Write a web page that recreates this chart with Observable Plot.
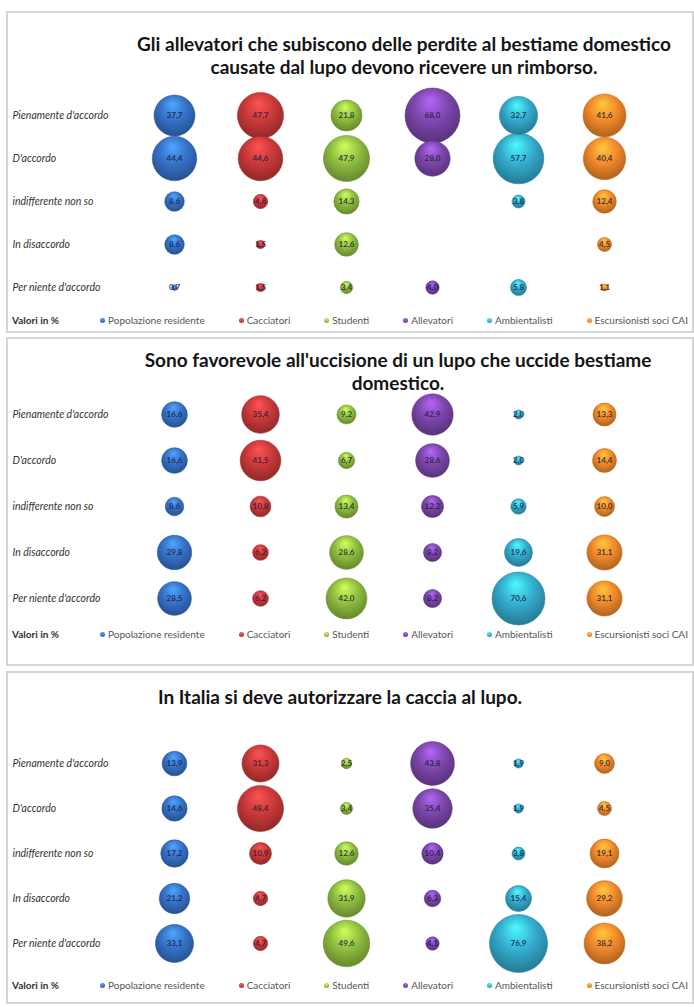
<!DOCTYPE html>
<html><head><meta charset="utf-8">
<script src="https://cdn.jsdelivr.net/npm/d3@7"></script>
<script src="https://cdn.jsdelivr.net/npm/@observablehq/plot@0.6"></script>
<style>
html,body{margin:0;padding:0;background:#fff;}
body{width:694px;height:1007px;position:relative;overflow:hidden;font-family:Lato,"Open Sans",sans-serif;}
.panel{position:absolute;left:6px;width:684px;border:2px solid #d6d6d6;background:#fff;}
.title{position:absolute;width:640px;text-align:center;font-weight:bold;font-size:19px;color:#141414;white-space:nowrap;}
.plot{position:absolute;left:0;}
.plot svg{overflow:visible;}
.legend{position:absolute;left:4px;right:4px;height:14px;display:flex;align-items:center;font-size:10px;color:#555;white-space:nowrap;}
.legend .lab{font-weight:bold;color:#333;width:88px;flex:none;}
.legend .items{flex:1;display:flex;justify-content:space-between;}
.legend .it{display:flex;align-items:center;}
.legend .mk{width:5px;height:5px;border-radius:50%;margin-right:3px;display:inline-block;}
</style>
</head><body>
<svg id="defs" width="0" height="0" style="position:absolute"><defs></defs></svg>
<script>
const groups = ["Popolazione residente","Cacciatori","Studenti","Allevatori","Ambientalisti","Escursionisti soci CAI"];
const rows = ["Pienamente d'accordo","D'accordo","indifferente non so","In disaccordo","Per niente d'accordo"];
const seriesColors = ["#3570c6","#c83838","#8dbb3f","#7a45a8","#33a9cb","#f0882a"];
const legendLabel = "Valori in %";

const titleRimborso = ["Gli allevatori che subiscono delle perdite al bestiame domestico","causate dal lupo devono ricevere un rimborso."];
const titleUccisione = ["Sono favorevole all'uccisione di un lupo che uccide bestiame","domestico."];
const titleCaccia = ["In Italia si deve autorizzare la caccia al lupo."];

// values: one list per group, in row order
const rimborso = [
  [37.7,44.4,8.6,8.6,0.7],
  [47.7,44.6,4.6,1.5,1.5],
  [21.8,47.9,14.3,12.6,3.4],
  [68.0,28.0,0,0,4.0],
  [32.7,57.7,3.8,0,5.8],
  [41.6,40.4,12.4,4.5,1.1]
];
const uccisione = [
  [16.6,16.6,8.6,29.8,28.5],
  [35.4,41.5,10.8,6.2,6.2],
  [9.2,6.7,13.4,28.6,42.0],
  [42.9,28.6,12.2,8.2,8.2],
  [2.0,2.0,5.9,19.6,70.6],
  [13.3,14.4,10.0,31.1,31.1]
];
const caccia = [
  [13.9,14.6,17.2,21.2,33.1],
  [31.3,48.4,10.9,4.7,4.7],
  [2.5,3.4,12.6,31.9,49.6],
  [43.8,35.4,10.4,6.3,4.1],
  [1.9,1.9,3.8,15.4,76.9],
  [9.0,4.5,19.1,29.2,38.2]
];

// gradients
const defs = d3.select("#defs defs");
seriesColors.forEach((c,i)=>{
  const g = defs.append("radialGradient").attr("id","g"+i)
    .attr("cx","50%").attr("cy","40%").attr("r","60%").attr("fx","45%").attr("fy","22%");
  g.append("stop").attr("offset","0%").attr("stop-color", d3.color(c).brighter(1.1).formatHex());
  g.append("stop").attr("offset","55%").attr("stop-color", c);
  g.append("stop").attr("offset","100%").attr("stop-color", d3.color(c).darker(0.9).formatHex());
});

const fmt = v => d3.format(".1f")(v).replace(".", ",");

const panels = [
  {title: titleRimborso, values: rimborso, top: 11, h: 318, titleTop: 19, titleCx: 396, lh: 23, svgTop: 75, rowSpan: 175, rMax: 27.5, legendTop: 300},
  {title: titleUccisione, values: uccisione, top: 337, h: 325, titleTop: 9, titleCx: 390, lh: 23, svgTop: 49, rowSpan: 186, rMax: 26.5, legendTop: 288},
  {title: titleCaccia, values: caccia, top: 671, h: 329, titleTop: 13, titleCx: 332, lh: 22, svgTop: 64, rowSpan: 182, rMax: 29, legendTop: 305}
];

panels.forEach(p=>{
  const panel = document.createElement("div");
  panel.className = "panel";
  panel.style.top = p.top + "px";
  panel.style.height = p.h + "px";
  document.body.appendChild(panel);

  const t = document.createElement("div");
  t.className = "title";
  t.style.top = p.titleTop + "px";
  t.style.left = (p.titleCx - 320) + "px";
  t.style.lineHeight = p.lh + "px";
  t.innerHTML = p.title.map(s=>s.replace(/&/g,"&amp;")).join("<br>");
  panel.appendChild(t);

  const data = [];
  groups.forEach((g,gi)=> rows.forEach((r,ri)=> data.push({group:g, gi, row:r, value:p.values[gi][ri]})));
  const shown = data.filter(d=>d.value>0);
  const max = d3.max(data, d=>d.value);
  const mTop = 25, mBot = 35;

  const chart = Plot.plot({
    width: 684, height: mTop + p.rowSpan + mBot,
    marginLeft: 164, marginRight: 86, marginTop: mTop, marginBottom: mBot,
    style: {fontFamily: "Lato, 'Open Sans', sans-serif", background: "transparent", overflow: "visible"},
    x: {type: "point", domain: groups, padding: 0, axis: null},
    y: {type: "point", domain: rows, padding: 0, axis: null},
    r: {type: "sqrt", domain: [0, max], range: [0, p.rMax]},
    marks: [
      ...groups.map((g,gi)=> Plot.dot(shown.filter(d=>d.gi===gi), {
        x: "group", y: "row", r: "value",
        fill: `url(#g${gi})`, stroke: d3.color(seriesColors[gi]).darker(0.6).formatHex(), strokeWidth: 0.6
      })),
      Plot.text(shown, {x: "group", y: "row", text: d=>fmt(d.value), fontSize: 8, fontWeight: "bold", fill: "#1c1c3c", fillOpacity: 0.85}),
      Plot.axisY({label: null, tickSize: 0, tickPadding: 0, textAnchor: "start", dx: -160, fontSize: 10.5, fontStyle: "italic", fill: "#333"})
    ]
  });
  const wrap = document.createElement("div");
  wrap.className = "plot";
  wrap.style.top = p.svgTop + "px";
  wrap.appendChild(chart);
  panel.appendChild(wrap);

  const lg = document.createElement("div");
  lg.className = "legend";
  lg.style.top = p.legendTop + "px";
  const lab = document.createElement("span");
  lab.className = "lab"; lab.textContent = legendLabel;
  lg.appendChild(lab);
  const items = document.createElement("div");
  items.className = "items";
  groups.forEach((g,gi)=>{
    const it = document.createElement("span"); it.className = "it";
    const mk = document.createElement("span"); mk.className = "mk";
    mk.style.background = `radial-gradient(circle at 45% 30%, ${d3.color(seriesColors[gi]).brighter(1).formatHex()}, ${seriesColors[gi]} 60%, ${d3.color(seriesColors[gi]).darker(0.8).formatHex()})`;
    it.appendChild(mk);
    it.appendChild(document.createTextNode(g));
    items.appendChild(it);
  });
  lg.appendChild(items);
  panel.appendChild(lg);
});
</script>
</body></html>
